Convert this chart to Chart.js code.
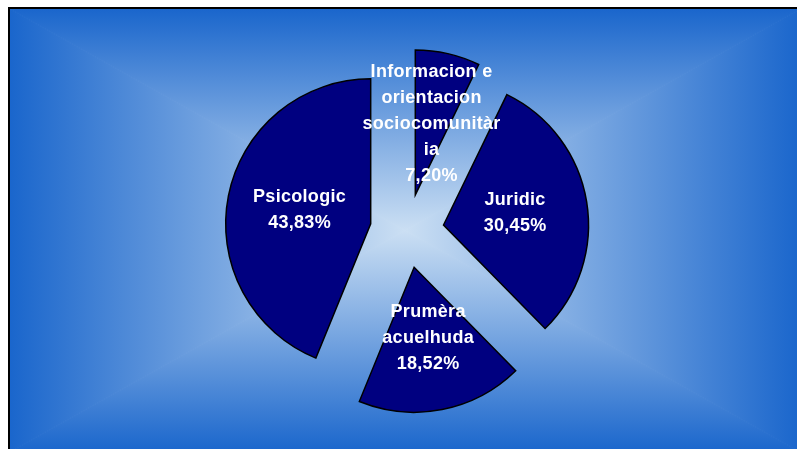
<!DOCTYPE html>
<html>
<head>
<meta charset="utf-8">
<script src="https://cdn.jsdelivr.net/npm/chart.js@4/dist/chart.umd.min.js"></script>
<style>
  html, body { margin: 0; padding: 0; background: #ffffff; }
  canvas { display: block; }
</style>
</head>
<body>
<canvas id="pieChart" width="797" height="449"></canvas>
<script>
// data
const categories = ['Informacion e orientacion sociocomunitària', 'Juridic', 'Prumèra acuelhuda', 'Psicologic'];
const labelLines = [
    ['Informacion e', 'orientacion', 'sociocomunitàr', 'ia'],
    ['Juridic'],
    ['Prumèra', 'acuelhuda'],
    ['Psicologic']
];
const shares = [7.20, 30.45, 18.52, 43.83];

const sliceColor = '#000080';
const explodeDist = 37;

// rectangular "from centre" gradient behind the pie, with a frame line top/left
const backgroundPlugin = {
    id: 'frameBackground',
    beforeDraw(chart) {
        const c = chart.ctx;
        const W = chart.width, H = chart.height;
        const x0 = 10, y0 = 9, x1 = 800, y1 = 452;
        const cx = (x0 + x1) / 2, cy = (y0 + y1) / 2;
        const edge = '#1a66cc', mid = '#cbdff3';
        c.save();
        c.fillStyle = '#ffffff';
        c.fillRect(0, 0, W, H);

        const tris = [
            [[x0, y0], [x1, y0], [cx, y0]],  // top
            [[x1, y0], [x1, y1], [x1, cy]],  // right
            [[x1, y1], [x0, y1], [cx, y1]],  // bottom
            [[x0, y1], [x0, y0], [x0, cy]]   // left
        ];
        tris.forEach(t => {
            c.beginPath();
            c.moveTo(cx, cy);
            c.lineTo(t[0][0], t[0][1]);
            c.lineTo(t[1][0], t[1][1]);
            c.closePath();
            const g = c.createLinearGradient(cx, cy, t[2][0], t[2][1]);
            g.addColorStop(0, mid);
            g.addColorStop(1, edge);
            c.fillStyle = g;
            c.fill();
            c.strokeStyle = g;
            c.lineWidth = 1;
            c.stroke();
        });

        c.fillStyle = '#000000';
        c.fillRect(8, 7, W - 8, 2);
        c.fillRect(8, 7, 2, H - 7);
        c.restore();
    }
};

// pull every slice out from the centre by the same distance
const explodePlugin = {
    id: 'explode',
    afterDatasetUpdate(chart, args) {
        args.meta.data.forEach(arc => {
            const a = (arc.startAngle + arc.endAngle) / 2;
            arc.x += Math.cos(a) * explodeDist;
            arc.y += Math.sin(a) * explodeDist;
        });
    }
};

// white bold labels inside each slice: name lines + percentage
const labelPlugin = {
    id: 'sliceLabels',
    afterDatasetsDraw(chart) {
        const c = chart.ctx;
        const meta = chart.getDatasetMeta(0);
        c.save();
        c.font = 'bold 18px "Liberation Sans", Arial, sans-serif';
        c.letterSpacing = '0.3px';
        c.fillStyle = '#ffffff';
        c.textAlign = 'center';
        c.textBaseline = 'middle';
        const lh = 26;
        meta.data.forEach((arc, i) => {
            const p = arc.getCenterPoint();
            const lines = labelLines[i].concat([shares[i].toFixed(2).replace('.', ',') + '%']);
            const top = p.y - (lines.length - 1) * lh / 2;
            lines.forEach((txt, k) => c.fillText(txt, p.x, top + k * lh));
        });
        c.restore();
    }
};

const ctx = document.getElementById('pieChart').getContext('2d');

const pieChart = new Chart(ctx, {
    type: 'pie',
    data: {
        labels: categories,
        datasets: [{
            data: shares,
            backgroundColor: sliceColor,
            borderColor: '#000000',
            borderWidth: 1.5,
            borderJoinStyle: 'miter'
        }]
    },
    options: {
        responsive: false,
        animation: false,
        devicePixelRatio: 1,
        events: [],
        radius: 145,
        layout: { padding: { left: 17, top: 13, right: 0, bottom: 0 } },
        plugins: {
            legend: { display: false },
            tooltip: { enabled: false }
        }
    },
    plugins: [backgroundPlugin, explodePlugin, labelPlugin]
});
</script>
</body>
</html>
